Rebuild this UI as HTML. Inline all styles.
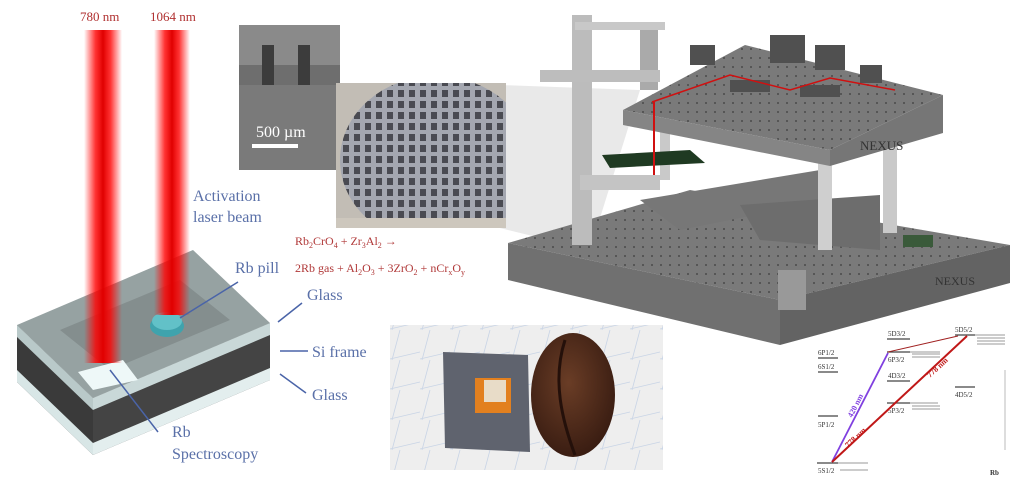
<!DOCTYPE html>
<html><head><meta charset="utf-8"><style>
html,body{margin:0;padding:0;background:#fff;}
svg{display:block;}
text{font-family:"Liberation Serif",serif;}
</style></head><body>
<svg width="1024" height="487" viewBox="0 0 1024 487" xmlns="http://www.w3.org/2000/svg">
<defs>
<linearGradient id="beam" x1="0" x2="1" y1="0" y2="0">
<stop offset="0" stop-color="#ff0000" stop-opacity="0"/><stop offset="0.3" stop-color="#f00" stop-opacity="0.8"/><stop offset="0.5" stop-color="#e00000"/><stop offset="0.7" stop-color="#f00" stop-opacity="0.8"/><stop offset="1" stop-color="#f00" stop-opacity="0"/>
</linearGradient>
<pattern id="holes" width="9" height="9" patternUnits="userSpaceOnUse"><rect width="9" height="9" fill="#7a7a7a"/><circle cx="4" cy="4" r="1" fill="#4a4a4a"/></pattern>
<pattern id="wgrid" width="11" height="11" patternUnits="userSpaceOnUse"><rect width="11" height="11" fill="#a4a7b0"/><rect x="2" y="2" width="6" height="7" fill="#4a4b52"/></pattern>
<pattern id="paper" width="30" height="30" patternUnits="userSpaceOnUse"><rect width="30" height="30" fill="#eeeeee"/><path d="M0 29 L30 22 M10 0 L2 30" stroke="#c8d4e6" stroke-width="0.8"/></pattern>
<radialGradient id="bean" cx="0.45" cy="0.4" r="0.6"><stop offset="0" stop-color="#6a3d26"/><stop offset="1" stop-color="#3a1d12"/></radialGradient>
<clipPath id="wclip"><rect x="336" y="83" width="170" height="145"/></clipPath>
</defs>

<text x="80" y="21" font-size="13" fill="#b03030">780 nm</text>
<text x="150" y="21" font-size="13" fill="#b03030">1064 nm</text>

<!-- chip -->
<polygon points="17,325 93,398 93,455 17,382" fill="#3a3a3a"/>
<polygon points="93,398 270,323 270,380 93,455" fill="#444"/>
<polygon points="17,325 93,398 93,410 17,337" fill="#b9c9c9"/>
<polygon points="93,398 270,323 270,335 93,410" fill="#c9d8d8"/>
<polygon points="17,370 93,443 93,455 17,382" fill="#d8e6e6"/>
<polygon points="93,443 270,368 270,380 93,455" fill="#e3eeee"/>
<polygon points="17,325 193,250 270,323 93,398" fill="#96a2a2"/>
<polygon points="60,330 180,280 230,320 110,370" fill="#848e8e"/>
<polygon points="78,372 123,360 138,380 93,390" fill="#eef8f8"/>
<ellipse cx="167" cy="326" rx="17" ry="11" fill="#3fa3ad"/>
<ellipse cx="167" cy="321" rx="15" ry="9" fill="#62c1c8"/>

<rect x="84" y="30" width="38" height="333" fill="url(#beam)"/>
<rect x="154" y="30" width="36" height="285" fill="url(#beam)"/>

<g fill="#5a70a8" font-size="16">
<text x="193" y="201">Activation</text>
<text x="193" y="222">laser beam</text>
<text x="235" y="273">Rb pill</text>
<text x="307" y="300">Glass</text>
<text x="312" y="357">Si frame</text>
<text x="312" y="400">Glass</text>
<text x="172" y="437">Rb</text>
<text x="172" y="459">Spectroscopy</text>
</g>
<g stroke="#4a64a8" stroke-width="1.5" fill="#4a64a8">
<line x1="238" y1="282" x2="180" y2="318"/>
<line x1="302" y1="303" x2="278" y2="322"/>
<line x1="308" y1="351" x2="280" y2="351"/>
<line x1="306" y1="393" x2="280" y2="374"/>
<line x1="158" y1="432" x2="110" y2="370"/>
</g>

<g fill="#b03838" font-size="12">
<text x="295" y="245">Rb<tspan font-size="8" dy="3">2</tspan><tspan dy="-3">CrO</tspan><tspan font-size="8" dy="3">4</tspan><tspan dy="-3"> + Zr</tspan><tspan font-size="8" dy="3">3</tspan><tspan dy="-3">Al</tspan><tspan font-size="8" dy="3">2</tspan><tspan dy="-3"> →</tspan></text>
<text x="295" y="272">2Rb gas + Al<tspan font-size="8" dy="3">2</tspan><tspan dy="-3">O</tspan><tspan font-size="8" dy="3">3</tspan><tspan dy="-3"> + 3ZrO</tspan><tspan font-size="8" dy="3">2</tspan><tspan dy="-3"> + nCr</tspan><tspan font-size="8" dy="3">x</tspan><tspan dy="-3">O</tspan><tspan font-size="8" dy="3">y</tspan></text>
</g>

<!-- SEM -->
<rect x="239" y="25" width="101" height="145" fill="#6e6e6e"/>
<rect x="239" y="25" width="101" height="40" fill="#8a8a8a"/>
<rect x="262" y="45" width="12" height="40" fill="#3c3c3c"/><rect x="298" y="45" width="12" height="40" fill="#3c3c3c"/>
<rect x="239" y="85" width="101" height="85" fill="#7a7a7a"/>
<text x="256" y="137" font-family="Liberation Sans,sans-serif" font-size="16" fill="#fff">500 µm</text>
<rect x="252" y="144" width="46" height="4" fill="#fff"/>

<polygon points="500,85 640,90 590,250 500,228" fill="#e0e0e0" opacity="0.7"/>
<rect x="336" y="83" width="170" height="145" fill="#c2bdb5"/>
<g clip-path="url(#wclip)">
<ellipse cx="436" cy="160" rx="96" ry="84" fill="url(#wgrid)"/>
<rect x="336" y="218" width="170" height="10" fill="#cdc7bd"/>
</g>

<!-- apparatus bottom table -->
<polygon points="508,243 690,190 1010,245 780,300" fill="url(#holes)"/>
<polygon points="508,243 780,300 780,345 508,280" fill="#707070"/>
<polygon points="780,300 1010,245 1010,283 780,345" fill="#636363"/>
<polygon points="640,200 820,170 830,200 680,230" fill="#777"/>
<polygon points="740,205 880,195 880,250 760,240" fill="#6d6d6d"/>
<rect x="572" y="15" width="20" height="230" fill="#bcbcbc"/>
<rect x="640" y="25" width="18" height="65" fill="#aaa"/>
<rect x="575" y="22" width="90" height="8" fill="#c8c8c8"/>
<rect x="540" y="70" width="120" height="12" fill="#bdbdbd"/>
<rect x="580" y="175" width="80" height="15" fill="#c4c4c4"/>
<rect x="818" y="160" width="14" height="90" fill="#cfcfcf"/>
<rect x="883" y="145" width="14" height="88" fill="#c9c9c9"/>
<rect x="660" y="130" width="10" height="50" fill="#c9c9c9"/>
<polygon points="602,155 690,150 705,163 610,168" fill="#1f3a22"/>
<rect x="903" y="235" width="30" height="12" fill="#3a5a3a"/>
<rect x="778" y="270" width="28" height="40" fill="#999"/>
<polygon points="623,110 745,45 943,95 830,150" fill="url(#holes)"/>
<polygon points="623,110 830,150 830,166 623,125" fill="#858585"/>
<polygon points="830,150 943,95 943,133 830,166" fill="#767676"/>
<g fill="#505050">
<rect x="770" y="35" width="35" height="28"/><rect x="815" y="45" width="30" height="25"/>
<rect x="690" y="45" width="25" height="20"/><rect x="860" y="65" width="22" height="18"/>
<rect x="730" y="80" width="40" height="12"/><rect x="800" y="85" width="40" height="12"/>
</g>
<polyline points="652,102 730,75 790,90 830,78 895,90" fill="none" stroke="#d01010" stroke-width="1.5"/>
<line x1="654" y1="102" x2="654" y2="175" stroke="#d01010" stroke-width="2"/>
<text x="860" y="150" font-family="Liberation Sans,sans-serif" font-size="13" fill="#333">NEXUS</text>
<text x="935" y="285" font-family="Liberation Sans,sans-serif" font-size="12" fill="#333">NEXUS</text>

<!-- coffee photo -->
<rect x="390" y="325" width="273" height="145" fill="url(#paper)"/>
<polygon points="443,352 528,355 530,452 445,448" fill="#5f636e"/>
<rect x="475" y="378" width="36" height="35" fill="#e2801f"/>
<rect x="484" y="380" width="22" height="22" fill="#e8dcc8"/>
<ellipse cx="573" cy="395" rx="42" ry="62" fill="url(#bean)"/>
<path d="M565 340 C552 380 562 420 575 455" stroke="#24100a" stroke-width="3" fill="none"/>

<!-- energy diagram -->
<g stroke="#444" stroke-width="1.3">
<line x1="818" y1="358" x2="838" y2="358"/><line x1="818" y1="372" x2="838" y2="372"/>
<line x1="818" y1="416" x2="838" y2="416"/>
<line x1="817" y1="463" x2="838" y2="463"/>
<line x1="887" y1="339" x2="910" y2="339"/><line x1="887" y1="352" x2="910" y2="352"/>
<line x1="887" y1="381" x2="910" y2="381"/><line x1="887" y1="403" x2="910" y2="403"/>
<line x1="955" y1="335" x2="975" y2="335"/><line x1="955" y1="387" x2="975" y2="387"/>
</g>
<g stroke="#999" stroke-width="1" fill="none">
<path d="M910 352 h30 M912 354 h28 M912 357 h28"/><path d="M910 403 h28 M912 406 h28 M912 409 h28"/>
<path d="M975 335 h30 M977 338 h28 M977 341 h28 M977 344 h28"/><path d="M838 463 h30 M840 470 h28"/>
<line x1="1005" y1="450" x2="1005" y2="370" stroke="#bbb"/>
</g>
<g font-family="Liberation Sans,sans-serif" font-size="7" fill="#333">
<text x="818" y="355">6P1/2</text><text x="818" y="369">6S1/2</text><text x="818" y="427">5P1/2</text>
<text x="818" y="473">5S1/2</text><text x="888" y="336">5D3/2</text><text x="888" y="362">6P3/2</text>
<text x="888" y="378">4D3/2</text><text x="888" y="413">5P3/2</text><text x="955" y="332">5D5/2</text>
<text x="955" y="397">4D5/2</text><text x="990" y="475" font-weight="bold">Rb</text>
</g>
<line x1="888" y1="353" x2="832" y2="462" stroke="#8040e0" stroke-width="1.8"/>
<line x1="832" y1="462" x2="967" y2="336" stroke="#c01818" stroke-width="2"/>
<line x1="888" y1="352" x2="958" y2="336" stroke="#a02020" stroke-width="1"/>
<text x="0" y="0" font-family="Liberation Sans,sans-serif" font-size="8" font-weight="bold" fill="#8040e0" transform="translate(852,418) rotate(-63)">420 nm</text>
<text x="0" y="0" font-family="Liberation Sans,sans-serif" font-size="8" font-weight="bold" fill="#c01818" transform="translate(848,448) rotate(-43)">778 nm</text>
<text x="0" y="0" font-family="Liberation Sans,sans-serif" font-size="8" font-weight="bold" fill="#c01818" transform="translate(930,378) rotate(-43)">778 nm</text>
</svg>
</body></html>
